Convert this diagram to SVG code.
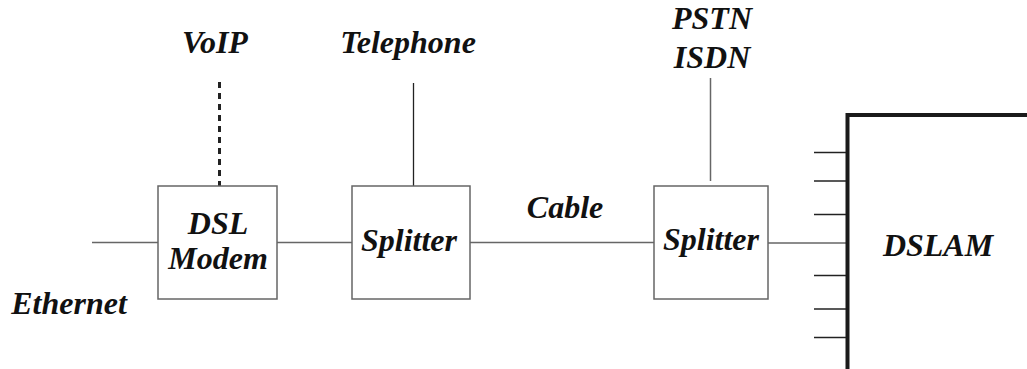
<svg xmlns="http://www.w3.org/2000/svg" width="1027" height="369" viewBox="0 0 1027 369">
<style>
text{font-family:"Liberation Serif","Times New Roman",serif;font-weight:bold;font-style:italic;font-size:32px;fill:#111;text-anchor:middle}
.box{fill:#fff;stroke:#666;stroke-width:1.5}
.ln{stroke:#666;stroke-width:1.5;fill:none}
.dk{stroke:#222;stroke-width:1.3;fill:none}
.tick{stroke:#222;stroke-width:1.5}
</style>
<rect width="1027" height="369" fill="#fff"/>
<g id="connectors">
<line class="ln" x1="92" y1="242.5" x2="158" y2="242.5"/>
<line class="ln" x1="277" y1="242.5" x2="352" y2="242.5"/>
<line class="ln" x1="470" y1="242.5" x2="654" y2="242.5"/>
<line class="ln" x1="768" y1="243" x2="846" y2="243"/>
<line stroke="#222" stroke-width="3" stroke-dasharray="6,5" x1="219.5" y1="82" x2="219.5" y2="186"/>
<line class="dk" x1="413.5" y1="83" x2="413.5" y2="186"/>
<line class="ln" x1="710.5" y1="78" x2="710.5" y2="181"/>
</g>
<g id="voip"><text x="215" y="53">VoIP</text></g>
<g id="telephone"><text x="408" y="53">Telephone</text></g>
<g id="pstn"><text x="712" y="29">PSTN</text><text x="712" y="68">ISDN</text></g>
<g id="ethernet"><text x="69" y="314">Ethernet</text></g>
<g id="cable"><text x="565" y="218">Cable</text></g>
<g id="modem"><rect class="box" x="158" y="186" width="119" height="113"/><text x="218" y="234">DSL</text><text x="218" y="269">Modem</text></g>
<g id="splitter1"><rect class="box" x="352" y="186" width="118" height="113"/><text x="409" y="251">Splitter</text></g>
<g id="splitter2"><rect class="box" x="654" y="186" width="114" height="113"/><text x="711" y="250">Splitter</text></g>
<g id="dslam">
<polyline points="847.5,369 847.5,115 1027,115" fill="none" stroke="#1a1a1a" stroke-width="4"/>
<line class="tick" x1="814" y1="152.5" x2="846" y2="152.5"/>
<line class="tick" x1="814" y1="181" x2="846" y2="181"/>
<line class="tick" x1="814" y1="214.5" x2="846" y2="214.5"/>
<line class="tick" x1="814" y1="275.5" x2="846" y2="275.5"/>
<line class="tick" x1="814" y1="309" x2="846" y2="309"/>
<line class="tick" x1="814" y1="337.5" x2="846" y2="337.5"/>
<text x="938" y="256">DSLAM</text>
</g>
</svg>
